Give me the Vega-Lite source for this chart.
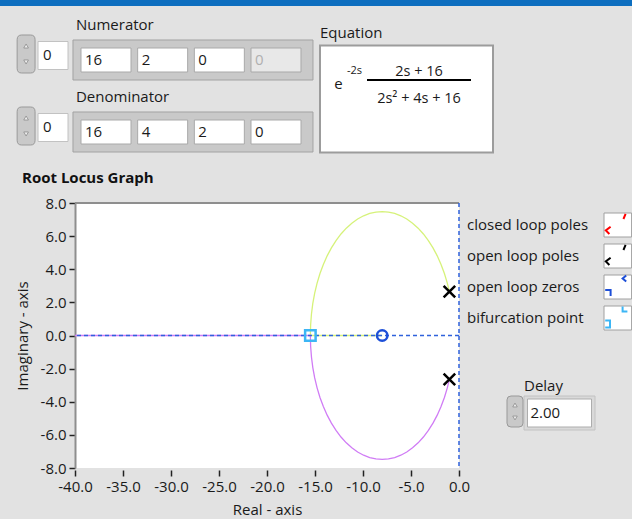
{
  "$schema": "https://vega.github.io/schema/vega-lite/v6.json",
  "width": 384,
  "height": 265,
  "autosize": {"type": "none"},
  "padding": {"left": 75, "top": 203, "right": 173, "bottom": 51},
  "background": "#e2e2e2",
  "config": {
    "view": {"fill": "white", "stroke": null},
    "font": "Open Sans",
    "text": {"font": "Open Sans", "color": "#1a1a1a", "fontSize": 15}
  },
  "resolve": {"scale": {"x": "independent", "y": "independent", "shape": "independent"}},
  "layer": [
    {
      "data": {"values": [
        {"b":"upper","k":0,"re":-1.000,"im":2.646},{"b":"upper","k":1,"re":-1.218,"im":3.162},{"b":"upper","k":2,"re":-1.519,"im":3.742},{"b":"upper","k":3,"re":-1.870,"im":4.292},{"b":"upper","k":4,"re":-2.268,"im":4.810},{"b":"upper","k":5,"re":-2.709,"im":5.291},{"b":"upper","k":6,"re":-3.190,"im":5.732},{"b":"upper","k":7,"re":-3.708,"im":6.130},{"b":"upper","k":8,"re":-4.258,"im":6.481},{"b":"upper","k":9,"re":-4.838,"im":6.782},{"b":"upper","k":10,"re":-5.441,"im":7.032},{"b":"upper","k":11,"re":-6.063,"im":7.228},{"b":"upper","k":12,"re":-6.701,"im":7.369},{"b":"upper","k":13,"re":-7.348,"im":7.455},{"b":"upper","k":14,"re":-8.000,"im":7.483},{"b":"upper","k":15,"re":-8.652,"im":7.455},{"b":"upper","k":16,"re":-9.299,"im":7.369},{"b":"upper","k":17,"re":-9.937,"im":7.228},{"b":"upper","k":18,"re":-10.559,"im":7.032},{"b":"upper","k":19,"re":-11.162,"im":6.782},{"b":"upper","k":20,"re":-11.742,"im":6.481},{"b":"upper","k":21,"re":-12.292,"im":6.130},{"b":"upper","k":22,"re":-12.810,"im":5.732},{"b":"upper","k":23,"re":-13.291,"im":5.291},{"b":"upper","k":24,"re":-13.732,"im":4.810},{"b":"upper","k":25,"re":-14.130,"im":4.292},{"b":"upper","k":26,"re":-14.481,"im":3.742},{"b":"upper","k":27,"re":-14.782,"im":3.162},{"b":"upper","k":28,"re":-15.032,"im":2.559},{"b":"upper","k":29,"re":-15.228,"im":1.937},{"b":"upper","k":30,"re":-15.369,"im":1.299},{"b":"upper","k":31,"re":-15.455,"im":0.652},{"b":"upper","k":32,"re":-15.483,"im":0},{"b":"upper","k":33,"re":-8.000,"im":0},
        {"b":"lower","k":0,"re":-1.000,"im":-2.646},{"b":"lower","k":1,"re":-1.218,"im":-3.162},{"b":"lower","k":2,"re":-1.519,"im":-3.742},{"b":"lower","k":3,"re":-1.870,"im":-4.292},{"b":"lower","k":4,"re":-2.268,"im":-4.810},{"b":"lower","k":5,"re":-2.709,"im":-5.291},{"b":"lower","k":6,"re":-3.190,"im":-5.732},{"b":"lower","k":7,"re":-3.708,"im":-6.130},{"b":"lower","k":8,"re":-4.258,"im":-6.481},{"b":"lower","k":9,"re":-4.838,"im":-6.782},{"b":"lower","k":10,"re":-5.441,"im":-7.032},{"b":"lower","k":11,"re":-6.063,"im":-7.228},{"b":"lower","k":12,"re":-6.701,"im":-7.369},{"b":"lower","k":13,"re":-7.348,"im":-7.455},{"b":"lower","k":14,"re":-8.000,"im":-7.483},{"b":"lower","k":15,"re":-8.652,"im":-7.455},{"b":"lower","k":16,"re":-9.299,"im":-7.369},{"b":"lower","k":17,"re":-9.937,"im":-7.228},{"b":"lower","k":18,"re":-10.559,"im":-7.032},{"b":"lower","k":19,"re":-11.162,"im":-6.782},{"b":"lower","k":20,"re":-11.742,"im":-6.481},{"b":"lower","k":21,"re":-12.292,"im":-6.130},{"b":"lower","k":22,"re":-12.810,"im":-5.732},{"b":"lower","k":23,"re":-13.291,"im":-5.291},{"b":"lower","k":24,"re":-13.732,"im":-4.810},{"b":"lower","k":25,"re":-14.130,"im":-4.292},{"b":"lower","k":26,"re":-14.481,"im":-3.742},{"b":"lower","k":27,"re":-14.782,"im":-3.162},{"b":"lower","k":28,"re":-15.032,"im":-2.559},{"b":"lower","k":29,"re":-15.228,"im":-1.937},{"b":"lower","k":30,"re":-15.369,"im":-1.299},{"b":"lower","k":31,"re":-15.455,"im":-0.652},{"b":"lower","k":32,"re":-15.483,"im":0},{"b":"lower","k":33,"re":-40.000,"im":0}
      ]},
      "mark": {"type": "line", "strokeWidth": 1.3},
      "encoding": {
        "x": {"field": "re", "type": "quantitative",
          "scale": {"domain": [-40, 0], "nice": false, "zero": false},
          "axis": {"values": [-40,-35,-30,-25,-20,-15,-10,-5,0], "labelExpr": "replace(format(datum.value, '.1f'), '\u2212', '-')",
            "domain": false, "grid": false, "ticks": true, "tickSize": 6, "tickWidth": 1.5, "tickColor": "#222222", "offset": 2,
            "labelPadding": 3, "labelFont": "Open Sans", "labelFontSize": 15, "labelColor": "#1a1a1a", "labelFlush": false, "labelOverlap": false,
            "title": "Real - axis", "titleFont": "Open Sans", "titleFontSize": 15, "titleFontWeight": "normal", "titleColor": "#1a1a1a", "titlePadding": 8}},
        "y": {"field": "im", "type": "quantitative",
          "scale": {"domain": [-8, 8], "nice": false, "zero": false},
          "axis": {"values": [-8,-6,-4,-2,0,2,4,6,8], "labelExpr": "replace(format(datum.value, '.1f'), '\u2212', '-')",
            "domain": true, "domainColor": "#8e8e8e", "domainWidth": 2, "grid": false, "ticks": true, "tickSize": 6, "tickWidth": 1.5, "tickColor": "#222222",
            "labelPadding": 3, "labelFont": "Open Sans", "labelFontSize": 15, "labelColor": "#1a1a1a", "labelFlush": false, "labelOverlap": false,
            "title": "Imaginary - axis", "titleFont": "Open Sans", "titleFontSize": 15, "titleFontWeight": "normal", "titleColor": "#1a1a1a", "titlePadding": 10}},
        "stroke": {"field": "b", "type": "nominal", "scale": {"domain": ["upper", "lower"], "range": ["#d6f27a", "#d07cf5"]}, "legend": null},
        "order": {"field": "k", "type": "quantitative"}
      }
    },
    {
      "layer": [
        {
          "data": {"values": [{}]},
          "mark": {"type": "rule", "color": "#8e8e8e", "strokeWidth": 2},
          "encoding": {"y": {"datum": 8, "type": "quantitative", "scale": {"domain": [-8, 8], "nice": false, "zero": false}, "axis": null}}
        },
        {
          "data": {"values": [{}]},
          "mark": {"type": "rule", "color": "#2f62dc", "strokeWidth": 1.5, "strokeDash": [4, 3]},
          "encoding": {"y": {"datum": 0, "type": "quantitative", "axis": null}}
        },
        {
          "data": {"values": [{}]},
          "mark": {"type": "rule", "color": "#2f62dc", "strokeWidth": 1.5, "strokeDash": [4, 3]},
          "encoding": {"x": {"datum": 0, "type": "quantitative", "scale": {"domain": [-40, 0], "nice": false, "zero": false}, "axis": null}}
        },
        {
          "data": {"values": [
            {"series": "open loop poles", "re": -1, "im": 2.646},
            {"series": "open loop poles", "re": -1, "im": -2.646},
            {"series": "open loop zeros", "re": -8, "im": 0},
            {"series": "bifurcation point", "re": -15.483, "im": 0}
          ]},
          "mark": {"type": "point", "filled": false, "strokeWidth": 2.5, "size": 110, "opacity": 1},
          "encoding": {
            "x": {"field": "re", "type": "quantitative", "axis": null},
            "y": {"field": "im", "type": "quantitative", "axis": null},
            "color": {"field": "series", "type": "nominal",
              "scale": {"domain": ["closed loop poles", "open loop poles", "open loop zeros", "bifurcation point"], "range": ["#ff0000", "#000000", "#1d4fd8", "#3cb6f5"]},
              "legend": null},
            "shape": {"field": "series", "type": "nominal",
              "scale": {"domain": ["closed loop poles", "open loop poles", "open loop zeros", "bifurcation point"], "range": ["cross", "M-1.1,-1.1L1.1,1.1M-1.1,1.1L1.1,-1.1", "circle", "square"]},
              "legend": null}
          }
        },
        {
          "data": {"values": [{"title": "Root Locus Graph"}]},
          "mark": {"type": "text", "align": "left", "baseline": "middle", "fontWeight": "bold", "fontSize": 15, "dx": -53, "dy": -25, "color": "#111111"},
          "encoding": {"x": {"datum": -40, "type": "quantitative", "axis": null}, "y": {"datum": 8, "type": "quantitative", "axis": null}, "text": {"field": "title"}}
        }
      ]
    },
    {
      "data": {"values": [{"series": "closed loop poles"}, {"series": "open loop poles"}, {"series": "open loop zeros"}, {"series": "bifurcation point"}]},
      "encoding": {
        "x": {"datum": "legend", "type": "nominal", "scale": {"type": "point", "domain": ["legend"], "range": [392, 392], "padding": 0}, "axis": null},
        "y": {"field": "series", "type": "nominal", "scale": {"type": "point", "domain": ["closed loop poles", "open loop poles", "open loop zeros", "bifurcation point"], "range": [22, 115], "padding": 0}, "axis": null}
      },
      "layer": [
        {
          "mark": {"type": "text", "align": "left", "baseline": "middle", "fontSize": 15},
          "encoding": {"text": {"field": "series"}}
        },
        {
          "mark": {"type": "point", "shape": "M-1,-1L1.3,-1L1.3,1L-1,1Z", "size": 576, "filled": true, "color": "#ffffff", "stroke": "#a0a0a0", "strokeWidth": 1, "opacity": 1},
          "encoding": {"xOffset": {"value": 149}}
        },
        {
          "mark": {"type": "point", "filled": false, "size": 576, "strokeWidth": 2, "opacity": 1},
          "encoding": {
            "xOffset": {"value": 149},
            "color": {"field": "series", "type": "nominal", "legend": null},
            "shape": {"field": "series", "type": "nominal",
              "scale": {"domain": ["closed loop poles", "open loop poles", "open loop zeros", "bifurcation point"],
                "range": ["M-0.45,0.15L-0.85,0.45L-0.55,0.75M0.8,-0.92L0.62,-0.5", "M-0.45,0.15L-0.85,0.45L-0.55,0.75M0.8,-0.92L0.62,-0.5", "M-0.9,0.25L-0.45,0.25L-0.45,0.75M0.85,-0.95L0.55,-0.7L0.85,-0.45", "M-0.9,0.2L-0.5,0.2L-0.5,0.8L-0.9,0.8M0.55,-0.95L0.55,-0.55L0.95,-0.55"]},
              "legend": null}
          }
        }
      ]
    },
    {
      "data": {"values": [{"element": "title bar"}]},
      "mark": {"type": "rect", "color": "#0d6ebf"},
      "encoding": {
        "x": {"datum": 0, "type": "quantitative", "scale": {"domain": [0, 1], "range": [-75, 557], "zero": false, "nice": false}, "axis": null},
        "x2": {"datum": 1},
        "y": {"datum": 0, "type": "quantitative", "scale": {"domain": [0, 1], "range": [-203, -197], "zero": false, "nice": false}, "axis": null},
        "y2": {"datum": 1}
      }
    },
    {
      "layer": [
        {
          "data": {"values": [{"poly": "Numerator"}, {"poly": "Denominator"}]},
          "mark": {"type": "point", "shape": "M-1,-0.1667L1,-0.1667L1,0.1667L-1,0.1667Z", "size": 57600, "filled": true, "color": "#c9c9c9", "stroke": "#a2a2a2", "strokeWidth": 1, "opacity": 1},
          "encoding": {"x": {"datum": 1.535, "type": "quantitative", "axis": null}, "y": {"field": "poly", "type": "nominal", "axis": null}}
        },
        {
          "data": {"values": [
            {"poly": "Numerator", "pos": 0, "value": "16", "state": "on"},
            {"poly": "Numerator", "pos": 1, "value": "2", "state": "on"},
            {"poly": "Numerator", "pos": 2, "value": "0", "state": "on"},
            {"poly": "Numerator", "pos": 3, "value": "0", "state": "off"},
            {"poly": "Denominator", "pos": 0, "value": "16", "state": "on"},
            {"poly": "Denominator", "pos": 1, "value": "4", "state": "on"},
            {"poly": "Denominator", "pos": 2, "value": "2", "state": "on"},
            {"poly": "Denominator", "pos": 3, "value": "0", "state": "on"}
          ]},
          "layer": [
            {
              "mark": {"type": "point", "shape": "M-1,-0.48L1,-0.48L1,0.48L-1,0.48Z", "size": 2500, "filled": true, "stroke": "#a9a9a9", "strokeWidth": 1, "opacity": 1},
              "encoding": {
                "x": {"field": "pos", "type": "quantitative", "scale": {"domain": [0, 3], "range": [31, 201], "zero": false, "nice": false}, "axis": null},
                "y": {"field": "poly", "type": "nominal", "scale": {"type": "point", "domain": ["Numerator", "Denominator"], "range": [-143, -71], "padding": 0}, "axis": null},
                "fill": {"condition": {"test": "datum.state === 'off'", "value": "#e8e8e8"}, "value": "#ffffff"}
              }
            },
            {
              "mark": {"type": "text", "align": "left", "baseline": "middle", "dx": -21, "fontSize": 15},
              "encoding": {
                "x": {"field": "pos", "type": "quantitative", "axis": null},
                "y": {"field": "poly", "type": "nominal", "axis": null},
                "text": {"field": "value"},
                "color": {"condition": {"test": "datum.state === 'off'", "value": "#b0b0b0"}, "value": "#1a1a1a"}
              }
            }
          ]
        },
        {
          "data": {"values": [{"poly": "Numerator", "index": "0"}, {"poly": "Denominator", "index": "0"}]},
          "layer": [
            {
              "mark": {"type": "point", "shape": "M-1,-0.933L1,-0.933L1,0.933L-1,0.933Z", "size": 900, "filled": true, "color": "#ffffff", "stroke": "#c2c2c2", "strokeWidth": 1, "opacity": 1},
              "encoding": {"x": {"datum": -0.935, "type": "quantitative", "axis": null}, "y": {"field": "poly", "type": "nominal", "axis": null}, "yOffset": {"value": -4.5}}
            },
            {
              "mark": {"type": "point", "shape": "M-0.472,-0.75Q-0.472,-1 -0.236,-1L0.236,-1Q0.472,-1 0.472,-0.75L0.472,0.75Q0.472,1 0.236,1L-0.236,1Q-0.472,1 -0.472,0.75Z", "size": 1444, "filled": true, "color": "#c9c9c9", "stroke": "#999999", "strokeWidth": 1, "opacity": 1},
              "encoding": {"x": {"datum": -1.41, "type": "quantitative", "axis": null}, "y": {"field": "poly", "type": "nominal", "axis": null}, "yOffset": {"value": -6}}
            },
            {
              "mark": {"type": "point", "shape": "triangle-up", "size": 22, "filled": true, "color": "#eeeeee", "stroke": "#8c8c8c", "strokeWidth": 0.8, "opacity": 1},
              "encoding": {"x": {"datum": -1.41, "type": "quantitative", "axis": null}, "y": {"field": "poly", "type": "nominal", "axis": null}, "yOffset": {"value": -14}}
            },
            {
              "mark": {"type": "point", "shape": "triangle-down", "size": 22, "filled": true, "color": "#eeeeee", "stroke": "#8c8c8c", "strokeWidth": 0.8, "opacity": 1},
              "encoding": {"x": {"datum": -1.41, "type": "quantitative", "axis": null}, "y": {"field": "poly", "type": "nominal", "axis": null}, "yOffset": {"value": 2}}
            },
            {
              "mark": {"type": "text", "align": "left", "baseline": "middle", "dy": -5, "fontSize": 15},
              "encoding": {"x": {"datum": -1.11, "type": "quantitative", "axis": null}, "y": {"field": "poly", "type": "nominal", "axis": null}, "text": {"field": "index"}}
            },
            {
              "mark": {"type": "text", "align": "left", "baseline": "middle", "dy": -35, "fontSize": 15},
              "encoding": {"x": {"datum": -0.53, "type": "quantitative", "axis": null}, "y": {"field": "poly", "type": "nominal", "axis": null}, "text": {"field": "poly"}}
            }
          ]
        }
      ]
    },
    {
      "layer": [
        {
          "data": {"values": [{"part": "box"}]},
          "mark": {"type": "point", "shape": "M-1,-0.6185L1,-0.6185L1,0.6185L-1,0.6185Z", "size": 29929, "filled": true, "color": "#ffffff", "stroke": "#9c9c9c", "strokeWidth": 2, "opacity": 1},
          "encoding": {"x": {"datum": "fraction", "type": "nominal", "axis": null}, "y": {"datum": "lower", "type": "nominal", "axis": null}, "xOffset": {"value": -12.5}}
        },
        {
          "data": {"values": [
            {"col": "fraction", "line": "upper", "text": "2s + 16"},
            {"col": "fraction", "line": "lower", "text": "2s\u00b2 + 4s + 16"}
          ]},
          "mark": {"type": "text", "align": "center", "baseline": "middle", "fontSize": 14.5},
          "encoding": {
            "x": {"field": "col", "type": "nominal", "scale": {"type": "point", "domain": ["delay", "fraction"], "range": [263.5, 344], "padding": 0}, "axis": null},
            "y": {"field": "line", "type": "nominal", "scale": {"type": "point", "domain": ["upper", "middle", "lower"], "range": [-131, -104], "padding": 0}, "axis": null},
            "text": {"field": "text"}
          }
        },
        {
          "data": {"values": [{"col": "delay", "line": "middle", "text": "e"}]},
          "mark": {"type": "text", "align": "center", "baseline": "middle", "fontSize": 15, "dy": -1.5},
          "encoding": {"x": {"field": "col", "type": "nominal", "axis": null}, "y": {"field": "line", "type": "nominal", "axis": null}, "text": {"field": "text"}}
        },
        {
          "data": {"values": [{"col": "delay", "line": "upper", "text": "-2s"}]},
          "mark": {"type": "text", "align": "left", "baseline": "middle", "fontSize": 11, "dx": 8.5, "dy": -1},
          "encoding": {"x": {"field": "col", "type": "nominal", "axis": null}, "y": {"field": "line", "type": "nominal", "axis": null}, "text": {"field": "text"}}
        },
        {
          "data": {"values": [{"part": "fraction bar"}]},
          "mark": {"type": "point", "shape": "M-1,0L1,0", "size": 10816, "filled": false, "color": "#000000", "strokeWidth": 2, "opacity": 1},
          "encoding": {"x": {"datum": "fraction", "type": "nominal", "axis": null}, "y": {"datum": "middle", "type": "nominal", "axis": null}, "yOffset": {"value": -5.5}}
        },
        {
          "data": {"values": [{"col": "delay", "line": "upper", "text": "Equation"}]},
          "mark": {"type": "text", "align": "left", "baseline": "middle", "fontSize": 15, "dx": -18.5, "dy": -39},
          "encoding": {"x": {"field": "col", "type": "nominal", "axis": null}, "y": {"field": "line", "type": "nominal", "axis": null}, "text": {"field": "text"}}
        }
      ]
    },
    {
      "data": {"values": [{"control": "Delay", "value": "2.00"}]},
      "layer": [
        {
          "mark": {"type": "point", "shape": "M-1,-0.479L1,-0.479L1,0.479L-1,0.479Z", "size": 5041, "filled": true, "color": "#d9d9d9", "stroke": "#c2c2c2", "strokeWidth": 1, "opacity": 1},
          "encoding": {
            "x": {"field": "control", "type": "nominal", "scale": {"type": "point", "domain": ["Delay"], "range": [484.5, 484.5], "padding": 0}, "axis": null},
            "y": {"field": "control", "type": "nominal", "scale": {"type": "point", "domain": ["Delay"], "range": [210, 210], "padding": 0}, "axis": null}
          }
        },
        {
          "mark": {"type": "point", "shape": "M-1,-0.4375L1,-0.4375L1,0.4375L-1,0.4375Z", "size": 4096, "filled": true, "color": "#ffffff", "stroke": "#adadad", "strokeWidth": 1, "opacity": 1},
          "encoding": {"x": {"field": "control", "type": "nominal", "axis": null}, "y": {"field": "control", "type": "nominal", "axis": null}}
        },
        {
          "mark": {"type": "point", "shape": "M-0.516,-0.75Q-0.516,-1 -0.258,-1L0.258,-1Q0.516,-1 0.516,-0.75L0.516,0.75Q0.516,1 0.258,1L-0.258,1Q-0.516,1 -0.516,0.75Z", "size": 961, "filled": true, "color": "#c9c9c9", "stroke": "#999999", "strokeWidth": 1, "opacity": 1},
          "encoding": {"x": {"field": "control", "type": "nominal", "axis": null}, "y": {"field": "control", "type": "nominal", "axis": null}, "xOffset": {"value": -44.5}, "yOffset": {"value": -1.5}}
        },
        {
          "mark": {"type": "point", "shape": "triangle-up", "size": 20, "filled": true, "color": "#eeeeee", "stroke": "#8c8c8c", "strokeWidth": 0.8, "opacity": 1},
          "encoding": {"x": {"field": "control", "type": "nominal", "axis": null}, "y": {"field": "control", "type": "nominal", "axis": null}, "xOffset": {"value": -44.5}, "yOffset": {"value": -8}}
        },
        {
          "mark": {"type": "point", "shape": "triangle-down", "size": 20, "filled": true, "color": "#eeeeee", "stroke": "#8c8c8c", "strokeWidth": 0.8, "opacity": 1},
          "encoding": {"x": {"field": "control", "type": "nominal", "axis": null}, "y": {"field": "control", "type": "nominal", "axis": null}, "xOffset": {"value": -44.5}, "yOffset": {"value": 5}}
        },
        {
          "mark": {"type": "text", "align": "left", "baseline": "middle", "fontSize": 15, "dx": -29},
          "encoding": {"x": {"field": "control", "type": "nominal", "axis": null}, "y": {"field": "control", "type": "nominal", "axis": null}, "text": {"field": "value"}}
        },
        {
          "mark": {"type": "text", "align": "left", "baseline": "middle", "fontSize": 15, "dx": -35.5, "dy": -27},
          "encoding": {"x": {"field": "control", "type": "nominal", "axis": null}, "y": {"field": "control", "type": "nominal", "axis": null}, "text": {"field": "control"}}
        }
      ]
    }
  ]
}
